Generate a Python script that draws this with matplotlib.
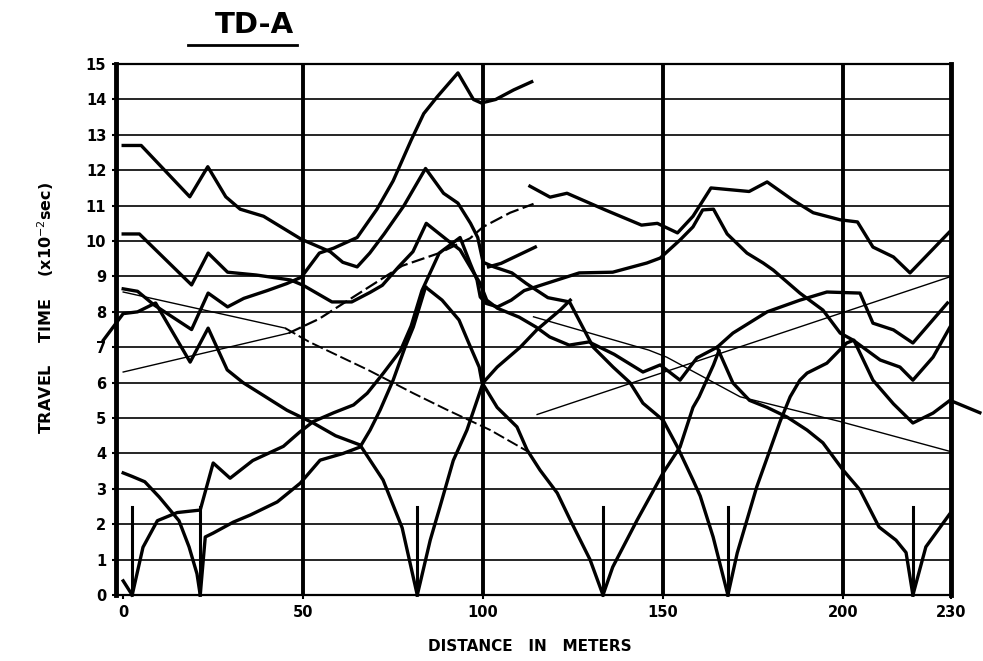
import matplotlib
matplotlib.use('Agg')
from matplotlib import pyplot as plt
from matplotlib.lines import Line2D

# shot points (short marks on the distance axis)
shot_x = [2.5, 21.4, 81.7, 133.3, 168.0, 219.4]
shot_mark_h = 2.5

x_ticks = [0, 50, 100, 150, 200, 230]
y_ticks = list(range(0, 16))

# thick travel-time branches (distance m, time x10^-2 s)
c1_x = [0, 5, 18.5, 23.5, 28.5, 32.5, 39, 49.5, 57.5, 61, 65, 68.5, 72.5, 78, 84, 89, 93, 96.5, 98.5,
        100, 103, 108, 112, 118, 124, 127.5, 130.6, 136.1, 140.8, 144.4, 150, 153.9, 158.3, 160.3, 163.9, 168]
c1_y = [12.7, 12.7, 11.25, 12.1, 11.25, 10.9, 10.7, 10.05, 9.7, 9.4, 9.27, 9.66, 10.2, 11.0, 12.05, 11.35, 11.07,
        10.5, 10.1, 9.4, 9.27, 9.1, 8.8, 8.4, 8.28, 7.6, 7.0, 6.44, 6.0, 5.42, 4.94, 4.2, 3.25, 2.8, 1.64, 0]

stub_x = [101.5, 105, 114.5]
stub_y = [9.27, 9.37, 9.83]

c2_x = [0, 4, 8.5, 19, 23.6, 29, 33.5, 40, 45.5, 49.5, 54.5, 58.5, 65, 70.5, 75, 80, 83.5, 87.2, 93,
        97.3, 99.5, 103.5, 108.5, 113.5]
c2_y = [8.65, 8.58, 8.2, 7.5, 8.53, 8.14, 8.38, 8.6, 8.8, 8.98, 9.66, 9.8, 10.1, 10.9, 11.7, 12.85, 13.6,
        14.07, 14.75, 14.0, 13.9, 14.0, 14.27, 14.5]

c3_x = [0, 4.5, 19, 23.6, 29, 37, 46.5, 50, 58, 63.5, 68.6, 72, 76.5, 80.5, 84.2, 90, 93.6, 96.4, 99.2,
        101, 104, 110, 114.7, 118.5, 123.9, 129.4, 136.4, 144.4, 149.2, 154.7, 159.4, 165, 169.4, 178.9,
        188, 195.5, 204.7, 208.3, 214, 219.4, 229]
c3_y = [10.2, 10.2, 8.76, 9.66, 9.12, 9.04, 8.9, 8.75, 8.28, 8.28, 8.55, 8.75, 9.27, 9.7, 10.5, 10.03, 9.75,
        9.27, 8.8, 8.33, 8.1, 7.85, 7.57, 7.29, 7.06, 7.15, 6.8, 6.3, 6.5, 6.07, 6.7, 7.0, 7.4, 8.0,
        8.33, 8.56, 8.53, 7.68, 7.49, 7.12, 8.25]

c4_x = [113, 118.6, 123.3, 133.9, 144, 148.4, 154, 158.3, 163.3, 173.9, 178.9, 186, 191.7, 199.2, 204,
        208.3, 214, 218.6, 229.5]
c4_y = [11.55, 11.24, 11.35, 10.88, 10.45, 10.5, 10.23, 10.7, 11.5, 11.4, 11.67, 11.16, 10.8, 10.6, 10.54,
        9.83, 9.55, 9.1, 10.25]

s1_x = [2.5, 5.5, 9.5, 15, 21.4, 25, 29.7, 36, 44.5, 49, 52.8, 58.5, 64, 67.8, 72.3, 77, 80, 83, 87.8,
        93.6, 96.4, 98.3, 99.2, 100.8, 104, 107.8, 111.4, 117.5, 126.7, 136, 145.5, 149.2, 154.7, 158.3,
        161, 164, 167.8, 173.3, 177.8, 180.6, 188, 194.4, 199.2, 202.8, 210.3, 215.8, 219.4, 225, 229.7]
s1_y = [0, 1.35, 2.1, 2.33, 2.4, 3.73, 3.3, 3.8, 4.2, 4.6, 4.9, 5.15, 5.37, 5.7, 6.27, 6.9, 7.6, 8.6, 9.66,
        10.1, 9.37, 8.9, 8.42, 8.24, 8.14, 8.33, 8.6, 8.8, 9.1, 9.12, 9.38, 9.52, 10.03, 10.4,
        10.88, 10.9, 10.2, 9.66, 9.38, 9.18, 8.53, 8.05, 7.4, 7.2, 6.64, 6.44, 6.07, 6.72, 7.57]

v2l_x = [0, 2.5]
v2l_y = [0.4, 0]

v21l_x = [0, 2.5, 6, 10, 15.5, 18.3, 20.5, 21.4]
v21l_y = [3.45, 3.35, 3.2, 2.77, 2.1, 1.36, 0.6, 0]

v21r_x = [21.4, 22.8, 25, 30.6, 35.3, 42.8, 49.2, 54.7, 61.1, 65.8, 68.6, 71.4, 75, 78.3, 80.6, 84]
v21r_y = [0, 1.64, 1.75, 2.06, 2.26, 2.63, 3.16, 3.81, 4.0, 4.18, 4.66, 5.23, 6.07, 7.0, 7.57, 8.7]

v82l_x = [81.7, 77.5, 72.2, 65.8, 59, 52.8, 45.5, 38, 33.3, 28.9, 23.6, 18.6, 9, 4, 0, -5.5]
v82l_y = [0, 1.9, 3.25, 4.24, 4.5, 4.86, 5.22, 5.7, 6.0, 6.36, 7.54, 6.58, 8.25, 8.0, 7.95, 7.2]

v82r_x = [81.7, 82.5, 85.3, 88, 91.7, 95.5, 100, 103.9, 110.3, 114.9, 121.4, 124.2]
v82r_y = [0, 0.34, 1.55, 2.49, 3.8, 4.66, 6.0, 6.44, 7.0, 7.49, 8.05, 8.33]

v133l_x = [133.3, 129.7, 124.2, 120.6, 115.8, 112.2, 109.4, 103.9, 99.7, 98.9, 96, 93.3, 88.6, 84]
v133l_y = [0, 1.0, 2.12, 2.88, 3.53, 4.1, 4.75, 5.3, 6.0, 6.44, 7.12, 7.77, 8.33, 8.7]

v133r_x = [133.3, 136, 142.8, 150, 154.7, 158.3, 160, 164, 165.5]
v133r_y = [0, 0.79, 2.12, 3.45, 4.18, 5.3, 5.6, 6.5, 6.9]

v168r_x = [168, 170.6, 176, 182.5, 185.3, 188, 190, 195.5, 201, 203, 208.3, 214, 219.4, 225, 229.7, 238]
v168r_y = [0, 1.19, 3.05, 4.9, 5.6, 6.07, 6.27, 6.55, 7.12, 7.2, 6.07, 5.4, 4.86, 5.14, 5.5, 5.15]

v219l_x = [219.4, 217.5, 214.7, 210, 204.7, 200, 194.4, 190, 184.4, 178.9, 174, 169.4, 165]
v219l_y = [0, 1.2, 1.55, 1.92, 2.97, 3.53, 4.3, 4.66, 5.03, 5.3, 5.5, 5.99, 7.0]

v219r_x = [219.4, 223, 229.7]
v219r_y = [0, 1.36, 2.3]

# thin straight(ish) lines
t1_x = [0, 46, 54.4, 77.5, 87.8, 96.4, 100, 107.5, 114]
t1_y = [6.3, 7.4, 7.8, 9.3, 9.66, 10.08, 10.4, 10.8, 11.05]
t2_x = [0, 45, 51.7, 68, 80.6, 90, 102, 112.5]
t2_y = [8.56, 7.54, 7.15, 6.36, 5.7, 5.23, 4.66, 4.05]
t3_x = [115, 230]
t3_y = [5.1, 9.0]
t4_x = [114, 146, 151, 171.4, 199.2, 230]
t4_y = [7.86, 6.92, 6.72, 5.6, 4.9, 4.05]


def main():
    fig = plt.figure(figsize=(9.83, 6.61), dpi=100)
    ax = fig.add_axes([0.118, 0.0998, 0.8495, 0.8033])
    ax.set_xlim(-2, 230)
    ax.set_ylim(0, 15)

    for yv in y_ticks[1:]:
        ax.axhline(yv, color='black', lw=1.2, zorder=1)
    for xv in x_ticks[1:-1]:
        ax.axvline(xv, color='black', lw=2.8, zorder=1)
    for sx in shot_x:
        ax.plot([sx, sx], [0, shot_mark_h], color='black', lw=2.2, zorder=2)

    thick = [(c1_x, c1_y), (stub_x, stub_y), (c2_x, c2_y), (c3_x, c3_y), (c4_x, c4_y), (s1_x, s1_y),
             (v2l_x, v2l_y), (v21l_x, v21l_y), (v21r_x, v21r_y), (v82l_x, v82l_y), (v82r_x, v82r_y),
             (v133l_x, v133l_y), (v133r_x, v133r_y), (v168r_x, v168r_y), (v219l_x, v219l_y),
             (v219r_x, v219r_y)]
    for xs, ys in thick:
        ax.plot(xs, ys, color='black', lw=2.4, solid_joinstyle='round', clip_on=False, zorder=3)

    ax.plot(t1_x[:2], t1_y[:2], color='black', lw=1.0, zorder=3)
    ax.plot(t1_x[1:], t1_y[1:], color='black', lw=1.6, ls=(0, (6, 2)), zorder=3)
    ax.plot(t2_x[:2], t2_y[:2], color='black', lw=1.0, zorder=3)
    ax.plot(t2_x[1:], t2_y[1:], color='black', lw=1.4, ls=(0, (6, 2)), zorder=3)
    ax.plot(t3_x, t3_y, color='black', lw=1.0, zorder=3)
    ax.plot(t4_x, t4_y, color='black', lw=1.0, zorder=3)

    for side in ['left', 'right']:
        ax.spines[side].set_linewidth(3.5)
    for side in ['top', 'bottom']:
        ax.spines[side].set_linewidth(1.6)

    ax.set_xticks(x_ticks)
    ax.set_yticks(y_ticks)
    ax.tick_params(axis='both', length=3, width=1.5, labelsize=10.5, pad=4)
    for lab in ax.get_xticklabels() + ax.get_yticklabels():
        lab.set_fontweight('bold')

    ax.set_xlabel('DISTANCE   IN   METERS', fontsize=11, fontweight='bold')
    ax.xaxis.set_label_coords(0.496, -0.082)
    ax.set_ylabel('TRAVEL    TIME    (x10$^{-2}$sec)', fontsize=11.5, fontweight='bold')
    ax.yaxis.set_label_coords(-0.072, 0.54)

    fig.text(0.259, 0.962, 'TD-A', fontsize=21, fontweight='bold', ha='center', va='center')
    fig.add_artist(Line2D([0.191, 0.302], [0.932, 0.932], color='black', lw=2))

    fig.savefig('out.png', dpi=100)


if __name__ == '__main__':
    main()
